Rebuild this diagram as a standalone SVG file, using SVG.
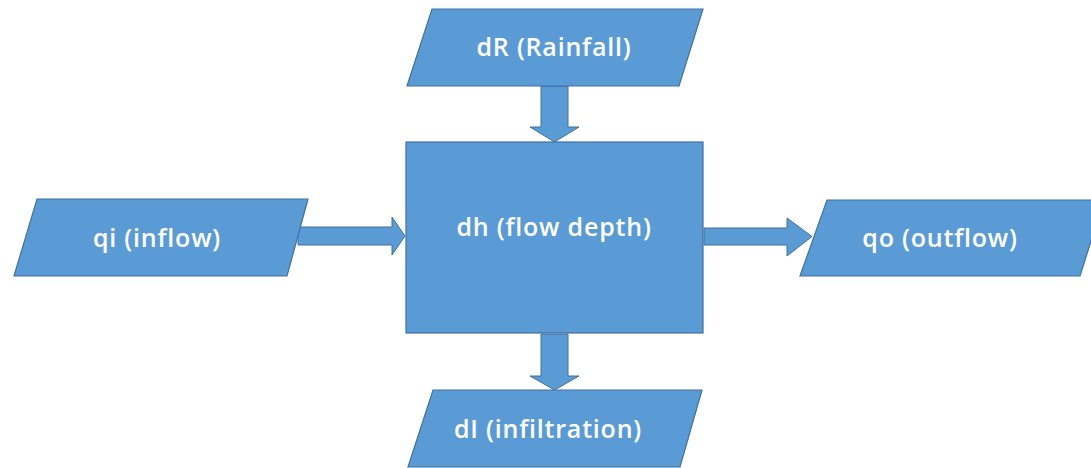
<svg xmlns="http://www.w3.org/2000/svg" width="1091" height="468" viewBox="0 0 1091 468">
<style>
.shape{fill:#5b9bd5;stroke:#41719c;stroke-width:1.2}
.arrow{fill:#5b9bd5;stroke:#41719c;stroke-width:1}
.lbl{fill:#ffffff;font-family:"Open Sans","Liberation Sans",sans-serif;font-size:25px;font-weight:600;letter-spacing:0.8px;text-anchor:middle;dominant-baseline:central}
</style>
<rect width="1091" height="468" fill="#ffffff"/>
<g id="connectors">
<path class="arrow" d="M541,86 H568 V127 H579 L554.5,142 L530,127 H541 Z"/>
<path class="arrow" d="M298,227 H392 V217 L405,236 L392,255 V245 H298 Z"/>
<path class="arrow" d="M704,228 H787 V218 L812,236.5 L787,256 V245 H704 Z"/>
<path class="arrow" d="M541,334 H568 V376 H579 L554.5,390 L530,376 H541 Z"/>
</g>
<g id="node-rainfall">
<polygon class="shape" points="432,9 703,9 679,86 407,86"/>
<text class="lbl" x="554" y="46">dR (Rainfall)</text>
</g>
<g id="node-depth">
<rect class="shape" x="406" y="142" width="297" height="191"/>
<text class="lbl" x="554" y="226">dh (flow depth)</text>
</g>
<g id="node-inflow">
<polygon class="shape" points="37,199 308,199 287,276 14,276"/>
<text class="lbl" x="157" y="237">qi (inflow)</text>
</g>
<g id="node-outflow">
<polygon class="shape" points="827,200 1104,200 1080,276 800,276"/>
<text class="lbl" x="940" y="237">qo (outflow)</text>
</g>
<g id="node-infiltration">
<polygon class="shape" points="433,390 702,390 680,467 408,467"/>
<text class="lbl" x="548" y="428">dI (infiltration)</text>
</g>
</svg>
